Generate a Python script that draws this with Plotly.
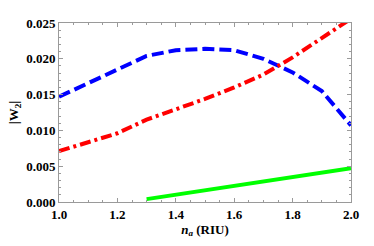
import plotly.graph_objects as go

x_blue = [1.0, 1.1, 1.2, 1.3, 1.4, 1.5, 1.6, 1.7, 1.8, 1.9, 2.0]
blue = [0.0147, 0.0166, 0.0185, 0.0204, 0.0212, 0.0214, 0.0212, 0.0200, 0.0181, 0.0155, 0.0107]

x_red = [1.0, 1.1, 1.2, 1.3, 1.4, 1.5, 1.6, 1.7, 1.8, 1.9, 2.0]
red = [0.0071, 0.0083, 0.0096, 0.0115, 0.0129, 0.0144, 0.0160, 0.0178, 0.0202, 0.0228, 0.0256]

x_green = [1.3, 1.4, 1.5, 1.6, 1.7, 1.8, 1.9, 2.0]
green = [0.0004, 0.0010, 0.0016, 0.0022, 0.0029, 0.0035, 0.0041, 0.0047]

x_ticks = [1.0, 1.2, 1.4, 1.6, 1.8, 2.0]
y_ticks = [0, 0.005, 0.01, 0.015, 0.02, 0.025]

FONT = "Liberation Serif"

fig = go.Figure()
fig.add_trace(go.Scatter(x=x_blue, y=blue, mode="lines",
                         line=dict(color="#0000FF", width=4, dash="12px,5px")))
fig.add_trace(go.Scatter(x=x_red, y=red, mode="lines",
                         line=dict(color="#FF0000", width=4, dash="11px,4px,3px,4px")))
fig.add_trace(go.Scatter(x=x_green, y=green, mode="lines",
                         line=dict(color="#00FF00", width=4)))

axis_common = dict(
    showgrid=False, zeroline=False, showline=True, linecolor="#9a9a9a", linewidth=1,
    mirror="allticks", ticks="inside", ticklen=4, tickcolor="#9a9a9a", tickwidth=1,
    tickfont=dict(family=FONT, size=13, color="black", weight="bold"),
    automargin=False,
)

fig.update_layout(
    width=374, height=246,
    margin=dict(l=59, r=23, t=23, b=44),
    paper_bgcolor="white", plot_bgcolor="white",
    showlegend=False,
    font=dict(family=FONT, color="black"),
    xaxis=dict(range=[1.0, 2.0], tickvals=x_ticks, tickformat=".1f",
               minor=dict(dtick=0.05, ticks="inside", ticklen=2, tickcolor="#9a9a9a"),
               title=dict(text="<i>n</i><sub><i>a</i></sub> (RIU)",
                          font=dict(family=FONT, size=13, weight="bold"), standoff=3),
               **axis_common),
    yaxis=dict(range=[0, 0.025], tickvals=y_ticks, tickformat=".3f",
               minor=dict(dtick=0.001, ticks="inside", ticklen=2, tickcolor="#9a9a9a"),
               title=dict(text="|W<sub>2</sub>|",
                          font=dict(family=FONT, size=13, weight="bold"), standoff=4),
               **axis_common),
)

fig.write_html("out.html", config={"displayModeBar": False},
               post_script="document.body.style.margin='0';")
